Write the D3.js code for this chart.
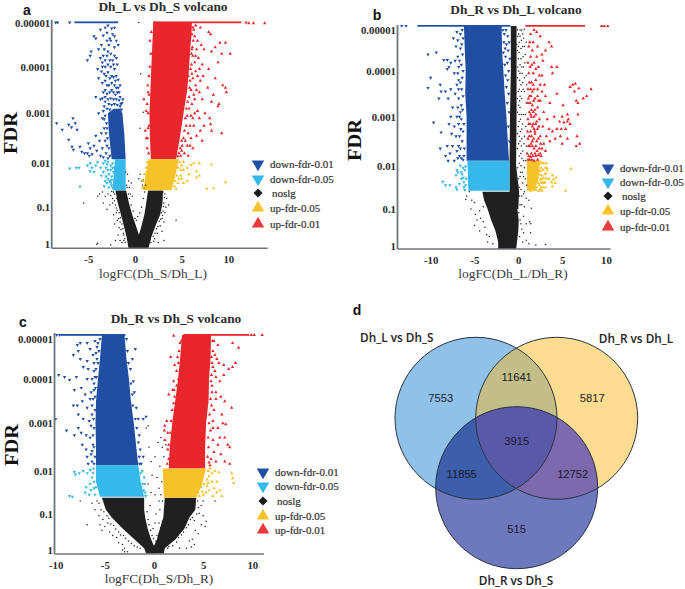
<!DOCTYPE html>
<html><head><meta charset="utf-8">
<script src="https://cdn.jsdelivr.net/npm/d3@7"></script>
<style>
html,body{margin:0;padding:0;background:#fff}
svg{display:block}
text{font-family:"Liberation Serif",serif}
</style></head><body>
<svg id="c" width="685" height="589"></svg>
<script>
// y values are -log10(FDR); x values are logFC. All estimated from the picture.
const fdrTicks=[0,1,2,3,4,5];
const fdrLabels=["1","0.1","0.01","0.001","0.0001","0.00001"];
const legendLabels=["down-fdr-0.01","down-fdr-0.05","noslg","up-fdr-0.05","up-fdr-0.01"];
const titles=["Dh_L vs Dh_S volcano","Dh_R vs Dh_L volcano","Dh_R vs Dh_S volcano"];
const xLabels=["logFC(Dh_S/Dh_L)","logFC(Dh_L/Dh_R)","logFC(Dh_S/Dh_R)"];
const xTicksA=[-5,0,5,10], xTicksB=[-10,-5,0,5,10], xTicksC=[-10,-5,0,5,10];

// dense bands: [y, xLow, xHigh]
const aRedBand=[[5.02,1.95,6.1],[4.7,1.9,6.05],[4.5,1.85,5.95],[4,1.75,5.8],[3.5,1.65,5.6],[3,1.55,5.2],[2.5,1.6,4.8],[2.08,1.7,4.4]];
const aYellowBand=[[2.08,1.45,4.7],[1.7,1.1,4.3],[1.39,.9,3.9]];
const aBlueBand=[[3.1,-2.3,-1.6],[3,-2.9,-1.35],[2.6,-2.8,-1.15],[2.08,-2.5,-1]];
const aSkyBand=[[2.08,-2.15,-1],[1.39,-2.4,-1]];
const aBlackLeft=[[1.38,-2.1,-.95],[1.1,-1.85,-.65],[.8,-1.5,-.3],[.5,-1.2,.1],[.2,-.9,.5],[-.1,-.7,.7]];
const aBlackRight=[[1.38,1.4,3],[1.1,1.2,2.95],[.8,1,2.7],[.5,.7,2.2],[.2,.35,1.75],[-.1,0,1.45]];
const aBlueTop=[[5.02,-6.5,-1.8]], aRedTop=[[5.02,1.95,11.4]];
const aBlue=[[-8.5,5.02],[-8.3,5.02],[-7,5.02],[-3.7,4.85],[-3.2,4.9],[-2.9,4.95],[-2.5,4.88],[-2.2,4.9],[-4.4,4.7],[-4.2,4.65],[-2.2,4.7],[-2.6,4.6],[-3,4.6],[-2.8,4.5],[-3.6,4.5],[-3.9,4.4],[-4.7,4.35],[-4.8,4.25],[-5.1,4.15],[-3.3,4.4],[-2.6,4.3],[-2.2,4.45],[-3.7,4.2],[-3.2,4.15],[-2.4,4.15],[-2,4.2],[-2.9,4.05],[-3.5,4],[-4,3.95],[-2.2,3.95],[-3.9,3.75],[-3.1,3.8],[-2.5,3.8],[-2,3.8],[-3.5,3.65],[-2.8,3.6],[-2.2,3.6],[-3.4,3.45],[-2.7,3.45],[-2.1,3.4],[-1.7,3.45],[-1.5,3.2],[-4.2,3.35],[-3.7,3.3],[-3.2,3.25],[-1.3,3.3],[-1.6,3.6],[-3.9,3],[-3.5,2.9],[-3.3,2.7],[-3.6,2.6],[-3.2,2.45],[-3.5,2.3],[-3.1,2.2],[-8.4,2.8],[-7.8,2.67],[-7.1,2.77],[-6.65,2.9],[-6.8,2.72],[-6.4,2.8],[-6.2,2.67],[-7.1,2.47],[-6.75,2.33],[-6.6,2.27],[-5.9,2.33],[-5,2.4],[-5.7,2.23],[-5.1,2.2],[-4.8,2.3],[-4.4,2.35],[-4.6,2.18],[-4.1,2.25],[-3.8,2.45],[-4.2,2.55],[-3.7,2.15],[-5.4,2.2],[-4.9,2.15],[-3.4,2.12]];
const aBlue2=[[-3.4,4.72],[-3,4.78],[-2.4,4.75],[-2.9,4.35],[-3.4,4.25],[-3,4.25],[-2.7,4.15],[-2.2,4.25],[-1.9,4.05],[-3.2,4],[-2.6,4],[-2.3,4.05],[-3.6,3.9],[-3.3,3.85],[-2.9,3.88],[-2.7,3.75],[-2.3,3.78],[-2.1,3.7],[-1.8,3.72],[-3.2,3.7],[-3,3.6],[-2.5,3.65],[-2,3.55],[-1.8,3.55],[-3.2,3.5],[-3,3.42],[-2.5,3.5],[-2.3,3.45],[-1.9,3.45],[-1.6,3.35],[-3.5,3.32],[-3.2,3.35],[-2.9,3.3],[-2.6,3.32],[-2.3,3.3],[-2,3.3],[-1.7,3.28],[-1.4,3.22],[-3.3,3.15],[-3,3.1],[-3.4,3.05],[-3.2,2.95],[-3.05,2.8],[-3.3,2.88],[-3.1,2.6],[-3,2.7],[-2.95,2.5],[-3,2.35],[-2.8,2.3],[-2.7,2.15],[-2.9,2.1],[-1.9,2.8],[-2.7,4.65],[-1.8,4.5],[-3.5,4.1],[-2,4.6],[-2.8,3.2],[-2.5,3.18],[-2.2,3.2],[-1.9,3.18],[-1.6,3.15],[-1.45,3.08],[-2.7,3.08]];
const aSky=[[-7,1.88],[-6.3,1.9],[-6,1.9],[-5.1,1.95],[-4.8,2],[-4.6,1.9],[-4.8,1.82],[-4.4,1.8],[-4.2,1.95],[-4,2.02],[-3.7,1.9],[-3.4,2],[-3.1,1.9],[-2.9,2.03],[-2.6,1.95],[-2.4,1.9],[-3.4,1.8],[-3.1,1.7],[-2.8,1.75],[-2.5,1.7],[-3,1.55],[-2.7,1.6],[-2.5,1.5],[-2.4,1.45],[-5.9,1.47],[-3.2,1.6],[-2.8,1.45],[-3.6,1.72],[-2.2,1.6],[-2.4,2],[-2.6,1.85],[-2.9,1.85],[-3.2,2.05],[-2.3,1.8],[-3,1.98],[-2.6,1.55],[-2.9,1.65],[-3.3,1.48],[-2.5,1.62],[-2.2,1.9]];
const aBlack=[[-1,1.8],[-.8,1.75],[-.7,1.6],[-.9,1.5],[-.6,1.45],[-.4,1.55],[-.5,1.3],[-.3,1.25],[-2.2,1.3],[-2.6,1.27],[-2.9,1.3],[-3.2,1.25],[-3.5,1.35],[-3.8,1.3],[-4,1.25],[-5.5,1.1],[-2.4,1.1],[-2.7,1.05],[-3,.95],[-3.4,1.1],[-2,.85],[-2.3,.8],[-1.9,.65],[-2.2,.55],[-1.7,.45],[-1.8,.25],[-2.1,.1],[-2.6,-.02],[-4.1,0],[-4,.03],[-1.6,.1],[-1.4,.05],[-1.2,.25],[.55,1.75],[.7,1.6],[.8,1.5],[.9,1.62],[3.2,1.3],[3.4,1.2],[3.1,1.1],[3.3,1],[3,.9],[3.6,1.05],[2.9,.7],[3.1,.6],[2.7,.5],[2.9,.35],[2.4,.3],[2.1,.15],[3.1,.1],[2.5,.05],[4.4,.65],[1.3,.02],[.4,1.65],[.55,2.7],[.9,3.02],[.6,3.85],[.4,5.02],
[-2.4,1.2],[-2.2,1.15],[-2.1,1.05],[-1.95,1.2],[-2.5,1.36],[-2.3,1.35],[-2,.98],[-1.9,.92],[-1.7,.85],[-1.75,.7],[-1.55,.72],[-1.6,.6],[-1.4,.55],[-1.5,.4],[-1.3,.42],[-1.25,.3],[-1.1,.15],[-1.2,.1],[-1.05,.05],[3,1.35],[3.15,1.22],[3.05,1.02],[3.2,.85],[2.85,.85],[2.95,.78],[2.75,.68],[2.6,.62],[2.45,.48],[2.3,.42],[2.15,.3],[1.95,.22],[2,.08],[1.7,.05],[1.6,.12],[-.85,1.45],[-.7,1.3],[-.6,1.2],[-.4,1.05],[-.2,.9],[0,.7],[.15,.65],[.3,.75],[.5,.85],[.7,1],[.9,1.2],[1.05,1.35],[1.15,1.5],[.95,1.44]];
const aYellow=[[5.2,2.03],[5.6,1.9],[6,1.96],[6.3,2],[6.9,2],[8.2,1.97],[6.6,1.82],[5.8,1.75],[5.2,1.85],[4.9,1.72],[5.2,1.55],[4.6,1.55],[4.4,1.42],[6.6,1.68],[6.9,1.72],[7.7,1.42],[8.4,1.43],[9.7,1.57],[5.6,1.6],[5,1.65],[4.8,2.02],[5,1.95],[4.6,1.9],[4.9,1.85],[4.5,1.72],[4.7,1.65],[4.3,1.6],[4.2,1.48],[1.2,1.9],[1,1.75],[.85,1.6],[.8,1.45],[1.3,2.02]];
const aRed=[[11.9,5.02],[12.2,5],[12.7,5],[13.9,5],[6.5,4.95],[7,4.9],[7.9,4.8],[8.1,4.75],[6.7,4.6],[7.1,4.5],[7.4,4.4],[8.6,4.45],[9.1,4.55],[9.7,4.55],[9.3,4.3],[10.2,4.3],[8.2,4.35],[8.9,4.1],[6.8,4.2],[7.9,3.95],[6.5,3.9],[7.3,3.8],[8.6,3.75],[9.4,3.6],[9.7,3.55],[9.8,3.45],[7,3.7],[7.8,3.55],[8.4,3.4],[6.6,3.5],[7.2,3.3],[8.2,3.25],[8.9,3.15],[9,3.2],[6.3,3.4],[6.7,3.05],[7.5,3],[8,2.9],[7.4,2.75],[8.2,2.65],[8.1,2.78],[9.3,2.6],[6.4,4.7],[6.6,4.4],[6.4,4.1],[6.9,3.95],[7.2,4.05],[6.2,3.75],[6.5,3.6],[6.9,3.45],[6.1,3.2],[6.4,3],[6.9,2.9],[7,2.65],[6,2.95],[5.9,2.75],[6.3,2.75],[6.6,2.55],[5.7,2.6],[6,2.5],[5.6,2.35],[6.2,2.3],[7.2,2.45],[5.3,2.2],[5.7,2.15],[5,2.25],[4.9,2.15],[1.4,3],[1.2,3.05],[1.1,2.65],[1.2,2.5],[1.3,2.3],[1.5,3.4],[1.7,4.3],[2.1,5.02],[1.5,2.75],[.95,3.3],[1.3,3.2],[5.7,3.8],[6.1,4.4],[6.3,4.85],[5.8,3.1],
[6.2,4.9],[6.1,4.75],[6.25,4.6],[6.15,4.45],[6.05,4.3],[6.2,4.25],[6.05,4.05],[5.95,3.95],[6.1,3.85],[5.9,3.7],[5.85,3.55],[6,3.5],[5.8,3.35],[5.65,3.25],[5.5,3.1],[5.6,2.95],[5.4,2.9],[5.5,2.75],[5.3,2.65],[5.2,2.5],[5.4,2.45],[5,2.45],[5.05,2.35],[4.85,2.3],[4.7,2.2],[4.6,2.14],[6.5,4.25],[6.7,3.8],[6.4,3.3],[6.2,2.9],[5.9,2.35],[1.4,3.45],[1.35,3.6],[1.5,3.8],[1.4,2.7],[1.35,2.5],[1.45,2.2],[1.6,4.6],[1.75,4.8],[1.6,4]];

const bBlueBand=[[5.1,-6.2,-1.9],[4.5,-6.1,-1.85],[4,-6,-1.7],[3.5,-6.05,-1.55],[3,-5.9,-1.35],[2.5,-5.9,-1.2],[2.1,-5.9,-1.05]];
const bSkyBand=[[2.1,-5.8,-1],[1.42,-5.7,-1]];
const bBlackMain=[[5.1,-.85,-.2],[4,-.85,-.2],[3,-.95,-.2],[2,-1,-.25],[1.4,-1,.1],[1,-1.2,.0]];
const bBlackBase=[[1.4,-4.1,-1],[1.2,-3.9,-.2],[1,-3.5,-.1],[.7,-3.1,.05],[.4,-2.6,0],[.1,-2.3,-.15],[-.1,-2.3,-.25]];
const bBlueTop=[[5.1,-11.5,-.9]], bRedTop=[[5.1,.8,7.6]];
const bYellowBand=[[2.1,1,2.5],[1.75,1,2.3],[1.42,1,1.9]];
const bBlue=[[-12.8,5.1],[-13.3,5.1],[-10.3,4.4],[-9.35,4.45],[-10,3.85],[-10.3,3.63],[-8.9,3.7],[-8.5,4.27],[-8.1,4.27],[-7.7,4.2],[-7.9,4.1],[-8.1,4.05],[-8.8,3.55],[-9.05,3.4],[-8.3,3.55],[-7.7,3.6],[-8,3.4],[-7.2,3.5],[-9.65,2.88],[-8.8,2.68],[-8.9,2.35],[-8.1,2.4],[-8.3,2.2],[-8,2.1],[-7.8,2.25],[-7.5,2.4],[-7.7,3],[-7.9,2.85],[-7.3,2.8],[-7.6,2.65],[-7.1,2.6],[-7,2.3],[-7.3,2.1],[-6.9,2.15],[-7,4.95],[-7.4,4.8],[-7.1,4.6],[-6.9,4.75],[-6.9,4.35],[-6.8,4.1],[-6.9,3.95],[-6.8,3.8],[-7,3.7],[-6.8,3.4],[-6.9,3.2],[-7,3],[-6.8,2.85],[-6.7,2.6],[-6.8,2.4],[-6.7,2.2],[-6.8,3.6],[-6.6,4.9],[-6.6,4.55],[-6.7,4.25],[-7.3,3.95],[-7.5,3.2],[-6.5,3.25],[-6.5,2.95],[-6.4,2.5],[-6.5,2.15],[-6.6,3.75],[-7.2,4.25],
[-6.4,5],[-6.3,4.8],[-6.45,4.65],[-6.35,4.4],[-6.5,4.15],[-6.3,4],[-6.4,3.85],[-6.45,3.6],[-6.3,3.45],[-6.35,3.15],[-6.2,2.85],[-6.3,2.7],[-6.15,2.35],[-6.2,2.2],[-6.6,3.1],[-6.7,3],[-6.55,2.75],[-6.6,2.35],[-6.3,2.12],[-1.75,5],[-1.6,4.9],[-1.4,5],[-1.2,4.85],[-1.65,4.7],[-1.35,4.65],[-1.15,4.5],[-1.7,4.45],[-1.45,4.35],[-1.25,4.2],[-1.55,4.15],[-1.1,4],[-1.45,3.9],[-1.2,3.8],[-1.35,3.65],[-1.1,3.5],[-1.25,3.3],[-1.05,3.1],[-1.15,2.8],[-1,2.5],[-1.5,4.55],[-1.05,4.7],[-.95,4.3]];
const bSky=[[-8.6,1.63],[-8.3,1.55],[-7.8,1.55],[-7.1,1.5],[-7,1.45],[-7,1.9],[-7.1,1.78],[-6.6,2],[-6.5,1.85],[-6.9,1.85],[-6.5,1.7],[-6.3,1.95],[-6.7,1.58],[-6.2,1.5],[-6.3,1.72],[-6.1,1.9],[-6,1.55],[-6.2,1.62],[-6.4,1.8],[-6,1.98],[-5.95,1.7],[-6.1,1.44]];
const bBlack=[[-5.6,1.4],[-5.9,1.3],[-6,1.22],[-5.3,1.2],[-5,1.15],[-5.4,1],[-4.9,.85],[-4.7,.7],[-5,.55],[-4.4,.95],[-4.3,.75],[-4,.65],[-3.8,.5],[-4.4,.4],[-3.6,.3],[-3.3,.25],[-3.5,.1],[-2.9,.05],[-4,1.05],[.2,5],[.5,4.9],[.7,5.02],[.1,4.7],[.5,4.6],[.8,4.4],[.3,4.3],[.6,4.1],[.2,3.95],[.5,3.75],[.9,3.9],[.1,3.6],[.4,3.4],[.7,3.55],[.2,3.2],[.6,3.05],[.9,3.3],[.1,2.9],[.4,2.75],[.7,2.6],[.2,2.5],[.5,2.3],[.9,2.4],[.1,2.2],[.3,2],[.7,1.95],[.2,1.75],[.5,1.6],[.8,1.7],[.1,1.5],[.4,1.3],[.9,1.25],[.2,1.1],[.7,1.05],[1.2,1.2],[1.5,1.02],[.6,.8],[.3,.6],[.9,.6],[1.3,.65],[1.4,.35],[.6,.35],[.9,.15],[1.2,.05],[2,.02],[3.1,.03],[1.4,.6],[.4,4.1],[.1,2.6],[.05,4.9],[.35,3.05],[.25,1.85],[.6,2.1],
[-.1,5],[-.05,4.85],[.02,4.6],[-.1,4.5],[.1,4.45],[0,4.3],[.2,4.15],[-.08,4.1],[.05,4],[-.1,3.85],[.15,3.8],[.3,3.7],[0,3.55],[-.1,3.4],[.2,3.45],[.05,3.25],[-.1,3.1],[.1,3.05],[.25,2.95],[0,2.8],[-.1,2.65],[.25,2.7],[.05,2.45],[-.1,2.35],[.35,2.4],[.1,2.05],[-.1,1.95],[.45,1.85],[.02,1.7],[-.05,1.55],[.3,1.45],[.6,1.35],[.35,4.75],[.6,4.8],[.3,4.55],[.7,4.6],[.55,4.35],[.75,4.2],[.45,3.95],[.7,3.85],[.35,3.55],[.55,3.6],[.8,3.05],[.5,2.85],[.85,2.8],[.65,2.45],[.4,2.15],[.85,2.1],[.6,1.75],[.95,1.55],[.7,1.4],[.95,3.7],[.9,4.7],[.4,5],[.2,4.85],[.15,3.35],[.4,2.55],[.3,2.25],[.15,1.3],[.4,1.1],[.05,.9],[.2,.7],[.4,.45],[.15,.25],[.5,.1],[-.3,5.02],[-.2,4.65]];
const bYellow=[[2.4,2.05],[2.6,1.95],[2.9,2.05],[3.2,2.05],[3.3,1.9],[3,1.8],[2.7,1.7],[2.4,1.8],[2.3,1.6],[2.6,1.5],[2.9,1.6],[3.2,1.7],[3.5,1.7],[2.7,1.42],[2.3,1.42],[3.9,1.78],[4,1.68],[4.2,1.6],[3.8,1.62],[3.9,1.52],[4.3,1.72],[2.1,1.5],[2,1.44],[1.4,1.42],[6,1.93],[5.4,1.42],[2.5,1.88],[3.1,1.5],[1.2,1.46],[2.75,2.05],[3.05,1.95],[2.55,2.08],[2.8,1.9],[3.15,1.82],[2.6,1.78],[2.9,1.72],[2.5,1.68],[2.75,1.6],[3.05,1.62],[2.4,1.55],[2.6,1.62],[2.85,1.5],[2.5,1.45],[2.15,1.66],[3.25,1.95],[2.2,1.72]];
const bRed=[[9.5,5.1],[9.8,5.1],[10.2,5.1],[1.4,4.9],[2.1,4.95],[2.5,4.85],[1.7,4.7],[1.2,4.6],[1.6,4.5],[2.2,4.6],[3.5,4.7],[3.8,4.6],[3.1,4.5],[2.7,4.4],[2.1,4.35],[1.4,4.35],[1.1,4.2],[1.8,4.2],[2.3,4.1],[2.8,4.25],[4.4,4.1],[3.8,4.1],[2.7,3.9],[1.7,3.95],[1.2,3.95],[1.5,3.75],[2,3.8],[2.5,3.7],[3,3.7],[3.9,3.95],[1.1,3.6],[1.6,3.55],[2.2,3.6],[2.7,3.55],[1.3,3.45],[1.9,3.4],[2.5,3.35],[3.1,3.45],[4.4,3.5],[3.6,3.3],[1.1,3.3],[1.6,3.25],[2.2,3.2],[2.9,3.1],[1.4,3.05],[1.8,3],[2.4,2.95],[3.3,2.95],[4.1,3],[1.2,2.85],[1.7,2.85],[2.2,2.75],[2.8,2.8],[3.5,2.75],[1.4,2.7],[1.9,2.65],[2.5,2.6],[3.2,2.6],[3.9,2.7],[4.4,2.75],[1.1,2.55],[1.6,2.5],[2.1,2.5],[2.9,2.45],[3.6,2.5],[4.2,2.55],[1.3,2.4],[1.8,2.35],[2.4,2.35],[3.1,2.3],[1,2.25],[1.5,2.25],[2,2.2],[2.6,2.2],[1.3,2.12],[1.8,2.1],[2.2,2.12],[6.2,3.7],[6.5,3.72],[6.4,3.55],[6.9,3.62],[7.4,3.4],[8.3,3.6],[7.8,3.45],[6.6,3.35],[6.8,3.3],[5.9,3.65],[5.1,3.25],[5,3],[5.2,2.88],[5.6,3.05],[5.6,2.9],[5.9,2.85],[5.4,2.75],[5.7,2.95],[4.9,2.75],[4.7,2.9],[4.8,2.6],[6.8,3.05],[6.6,2.4],[7,2.45],[6.7,2.6],[5.6,2.55],[5,2.45],[1.6,2.8],[1.5,3.15],[2.1,2.9],[1.9,2.7],[2.3,2.55],[2.7,2.35],[1.6,2.4],[1.7,3.7],[2.3,3.35],[1.4,3.6],[1.9,3.15],
[1.25,3.75],[1.15,3.4],[1.35,3.3],[1.25,3.1],[1.5,3],[1.1,2.95],[1.35,2.85],[1.5,2.6],[1.25,2.6],[1.15,2.4],[1.45,2.45],[1.2,2.2],[1.65,2.2],[1.9,2.25],[1.75,2.55],[2,2.4],[2.15,2.3],[2.3,2.22],[1.8,2.75],[2,2.85],[1.7,3.1],[2,3.05],[2.2,3.45],[1.75,3.35],[1.45,3.45],[2.35,2.8],[2.55,2.45],[2.5,2.25],[1.05,2.7],[1.4,2.18],[1.55,2.12],[1.1,2.12],[1.35,4.1],[2,4.05],[1.55,4.15],[1.8,3.6],[2.4,3.9],[1.3,4.7],[1.8,5]];

const cBlueBand=[[5.1,-5.3,-3],[4.5,-5.5,-2.8],[4,-5.7,-2.55],[3.5,-5.9,-2.35],[3,-5.95,-2.05],[2.5,-5.9,-1.8],[2.12,-5.9,-1.6]];
const cSkyBand=[[2.12,-5.9,-1.6],[1.75,-5.9,-1.35],[1.4,-5.5,-1]];
const cRedBand=[[5.1,2.85,5.8],[4.5,2.65,5.75],[4,2.45,5.6],[3.5,2.15,5.55],[3,1.85,5.3],[2.5,1.6,5.2],[2.05,1.5,5.2]];
const cYellowBand=[[2.05,.9,5.3],[1.7,.95,4.9],[1.38,1,4.3]];
const cBlackLeft=[[1.38,-5.3,-1],[1.1,-4.9,-1],[.9,-4.3,-.9],[.6,-3.2,-.65],[.3,-2,-.3],[.05,-1,.1],[-.1,-.8,.3]];
const cBlackRight=[[1.38,1.1,4.3],[1.1,1,4.2],[.9,.95,3.6],[.6,.6,3.1],[.3,.3,2.2],[.05,-.1,1.1],[-.1,-.3,1]];
const cBlueTop=[[5.1,-9.5,-2.9]], cRedTop=[[5.1,3,9.7]];
const cBlue=[[-9.9,5.1],[-9.6,5.1],[-7.8,4.85],[-7.5,4.9],[-6.8,4.9],[-6.5,4.75],[-7.7,4.7],[-8.2,4.6],[-7.5,4.5],[-6.8,4.45],[-6.2,4.6],[-5.8,4.8],[-7.2,4.3],[-6.7,4.25],[-6.1,4.2],[-9.7,4.1],[-9.1,4.05],[-8.6,3.98],[-7.9,4.05],[-6.8,4],[-6.1,3.9],[-8.1,3.75],[-7.4,3.8],[-7,3.65],[-6.4,3.7],[-8.2,3.4],[-7.8,3.4],[-7.3,3.5],[-6.8,3.35],[-6.3,3.4],[-7.7,3.2],[-7.2,3.1],[-6.6,3.05],[-10,3.1],[-8.9,2.85],[-8.1,2.75],[-7.7,2.9],[-7.4,2.8],[-6.9,2.75],[-6.5,2.7],[-7.3,2.55],[-6.9,2.45],[-6.4,2.35],[-6.8,2.3],[-6.7,2.15],[-6.3,2.2],[-1.9,4.75],[-2.2,4.5],[-2.1,3.95],[-2,3.7],[-1.8,3.35],[-1.6,3.1],[-1.1,3.1],[-.8,3.15],[-1.5,2.75],[-1.4,2.45],[-1.1,2.3],[-1.3,2.15],[-5.8,4.5],[-6,4.05],[-6.3,3.2],[-6.2,2.55],
[-5.5,5],[-5.7,4.9],[-6,4.95],[-5.6,4.7],[-5.9,4.65],[-5.7,4.4],[-6.1,4.4],[-5.9,4.25],[-5.85,4.05],[-6.3,4],[-6.1,3.75],[-5.95,3.8],[-6.2,3.55],[-6,3.6],[-6.5,3.55],[-6,3.3],[-6.15,3.1],[-6.4,2.95],[-6.1,2.9],[-6.2,2.75],[-6.1,2.5],[-6.3,2.42],[-6,2.3],[-6.1,2.15],[-2.8,5],[-2.7,4.7],[-2.6,4.4],[-2.4,4.25],[-2.35,3.9],[-2.2,3.65],[-2.15,3.4],[-1.9,3.1],[-1.75,2.9],[-1.6,2.6],[-1.5,2.3],[-1.45,2.15]];
const cSky=[[-8.1,1.98],[-8,1.92],[-7.6,1.95],[-7.2,2],[-6.8,1.95],[-6.5,2.02],[-6.2,1.95],[-6.5,1.7],[-6.9,1.62],[-6.4,1.55],[-7,1.5],[-8.3,1.4],[-8.6,1.42],[-6.6,1.45],[-6.1,1.75],[-6,1.45],[-5.9,1.62],[-1.2,2],[-1,1.85],[-.95,1.7],[-.9,1.5],[-6.15,2.05],[-6.3,1.85],[-6.1,1.6],[-1.35,1.95],[-1.15,1.7],[-1.05,1.55],[-.85,1.42]];
const cBlack=[[-5.8,1.3],[-6.3,1.25],[-6,1.1],[-5.6,.95],[-5.2,.85],[-5.5,.7],[-5,.65],[-5.3,.55],[-4.7,.75],[-4.5,.5],[-4.2,.4],[-3.8,.35],[-3.6,.2],[-3.2,.15],[-3,.05],[-3.2,0],[-6.8,.7],[-7.5,1.3],[-.5,2.5],[-.3,2.2],[.1,2.3],[.4,2.6],[.7,2.7],[.85,2.5],[.6,2.1],[1,2.3],[1.2,2.55],[-.2,1.9],[.3,1.85],[.5,1.6],[.8,1.75],[-.6,1.7],[-.3,1.5],[.1,1.45],[.5,1.3],[.85,1.3],[-.4,1.2],[.2,1],[.6,1.1],[.1,.75],[.5,.75],[-.1,.6],[.3,.4],[.7,1.45],[-.8,2.9],[-.6,2.95],[4.6,1.02],[5,.95],[5.3,.8],[4.8,.7],[5.2,.65],[4.2,.55],[4.5,.45],[3.9,.3],[4.1,.15],[3.6,.25],[3.3,.05],[3.8,.08],[6.2,1.3],[4.8,1.2],[5,1.3],[-.7,.08],[-2.7,-.05],[-3,-.05],[1.4,.05],[2.6,.05],
[-5.6,1.25],[-5.4,1.1],[-5.1,1.05],[-4.8,.95],[-4.6,.88],[-4.4,.72],[-4.1,.68],[-3.9,.58],[-3.6,.5],[-3.4,.42],[-3.1,.4],[-2.9,.32],[-2.6,.25],[-2.3,.18],[-2,.12],[-1.7,.08],[-1.4,.05],[-.7,1.05],[-.6,.85],[-.5,.7],[-.35,.55],[-.2,.4],[-.05,.32],[.2,.25],[.5,.45],[.7,.62],[.85,.8],[4.45,1.3],[4.5,1.15],[4.35,1],[3.9,.9],[4.1,.82],[3.7,.85],[3.5,.7],[3.3,.62],[3,.5],[2.8,.42],[2.5,.35],[2.3,.22],[1.9,.12],[1.5,.1]];
const cYellow=[[5.7,2.05],[5.9,1.95],[6.2,2],[6.6,1.97],[7.9,1.95],[8.1,1.72],[8,1.83],[5.9,1.75],[6.4,1.75],[6.1,1.6],[5.6,1.55],[5.3,1.5],[5,1.45],[6,1.42],[6.4,1.5],[6.7,1.55],[6.9,1.42],[4.8,1.62],[5.4,1.8],[5.5,2],[5.6,1.88],[5.4,1.65],[5.1,1.7],[5.5,1.72],[4.9,1.52],[4.6,1.42],[4.5,1.5]];
const cRed=[[9.9,5.1],[10.2,5.1],[11,5.1],[2,5.08],[2.8,4.95],[1.7,4.55],[2.4,4.55],[2.1,4.35],[2,3.95],[2.5,4],[1.9,3.75],[2.1,3.6],[1.5,3.65],[1.85,3.3],[1.3,3.05],[1.1,2.95],[1.05,2.85],[1.4,2.8],[1.1,2.65],[1.5,2.55],[6.1,4.95],[6.5,4.85],[8,4.9],[8.6,4.78],[6.2,4.6],[6.4,4.5],[6.6,4.4],[7.1,4.35],[8.3,4.4],[8,4.3],[7.6,4.25],[6.2,4.2],[6.3,4.05],[6.7,3.95],[7.1,4.1],[6.3,3.7],[6.8,3.6],[6.3,3.55],[7.2,3.5],[7.9,3.35],[6.1,3.3],[6.9,3.2],[7,3],[7.3,2.98],[6,3.05],[6.5,2.9],[7.2,2.7],[7.5,2.55],[7.7,2.5],[6,2.65],[6.5,2.55],[6.1,2.4],[6.8,2.35],[5.8,2.25],[6.3,2.2],[7.2,2.2],[7.7,2.15],[5.7,2.12],[6.7,2.7],[5.9,4.4],[5.9,3.85],[6,2.9],
[5.95,4.95],[6,4.7],[5.85,4.55],[6,4.3],[5.85,4.1],[5.8,3.95],[5.9,3.7],[5.75,3.55],[5.85,3.4],[5.65,3.2],[5.6,3],[5.75,2.85],[5.5,2.7],[5.55,2.5],[5.45,2.3],[5.6,2.18],[2.65,4.9],[2.55,4.7],[2.5,4.4],[2.3,4.2],[2.3,3.85],[2.05,3.75],[2,3.45],[1.75,3.05],[1.65,2.8],[1.5,2.25],[1.35,2.15],[1.4,2.45]];

const vennSets=["Dh_L vs Dh_S","Dh_R vs Dh_L","Dh_R vs Dh_S"];
const vennCounts=[7553,11641,5817,3915,11855,12752,515];

const palette={up01:"#e8262b",up05:"#f5c22a",noslg:"#202020",down05:"#35b8ea",down01:"#1f4ea3"};
const svg=d3.select("#c");
const tri=d3.symbol().type(d3.symbolTriangle);

function panel(p){
  const x=d3.scaleLinear().domain(p.xd).range(p.xr);
  const y=d3.scaleLinear().domain(fdrTicks).range(p.yr);
  const g=svg.append("g");
  const clip="clip"+p.id;
  svg.append("clipPath").attr("id",clip).append("rect").attr("x",p.left).attr("y",p.top).attr("width",p.right-p.left+2).attr("height",p.bottom-p.top);
  const plot=g.append("g").attr("clip-path",`url(#${clip})`);
  const band=d3.area().y(d=>y(d[0])).x0(d=>x(d[1])).x1(d=>x(d[2]));
  p.bands.forEach(([rows,k])=>plot.append("path").attr("d",band(rows)).attr("fill",palette[k]));
  p.tops.forEach(([rows,k])=>plot.selectAll(null).data(rows).join("rect")
    .attr("x",d=>x(d[1])).attr("y",d=>y(d[0])-1).attr("width",d=>x(d[2])-x(d[1])).attr("height",1.8).attr("fill",palette[k]));
  p.dots.forEach(([pts,k])=>{
    if(k==="noslg"){
      plot.selectAll(null).data(pts).join("circle").attr("cx",d=>x(d[0])).attr("cy",d=>y(d[1])).attr("r",.75).attr("fill",palette[k]);
    }else{
      const rot=k.startsWith("down")?180:0;
      plot.selectAll(null).data(pts).join("path").attr("d",tri.size(5)())
        .attr("transform",d=>`translate(${x(d[0])},${y(d[1])}) rotate(${rot})`).attr("fill",palette[k]);
    }
  });
  const ax=g.append("g").attr("transform",`translate(0,${p.bottom})`)
    .call(d3.axisBottom(x).tickValues(p.xt).tickSize(0).tickPadding(7).tickFormat(d=>d));
  const ay=g.append("g").attr("transform",`translate(${p.left},0)`)
    .call(d3.axisLeft(y).tickValues(fdrTicks).tickSize(0).tickPadding(1.5).tickFormat((d,i)=>fdrLabels[i]));
  [ax,ay].forEach(a=>{
    a.selectAll("text").style("font-family","Liberation Serif").style("font-weight","bold").style("font-size","10.8px").attr("fill","#2b2b2b");
  });
  ax.select(".domain").attr("d",`M${p.left},0H${p.right}`).attr("stroke","#6f7478").attr("stroke-width",1.6);
  ay.select(".domain").attr("d",`M0,${p.top}V${p.bottom}`).attr("stroke","#6f7478").attr("stroke-width",1.8);
  g.append("text").attr("x",p.title[0]).attr("y",p.title[1]).attr("text-anchor","middle").attr("font-weight","bold").attr("font-size","13.4px").attr("fill","#2b2b2b").text(titles[p.i]);
  g.append("text").attr("x",p.xlab[0]).attr("y",p.xlab[1]).attr("text-anchor","middle").attr("font-size","13.4px").attr("fill","#3a3a3a").text(xLabels[p.i]);
  g.append("text").attr("transform",`translate(${p.ylab[0]},${p.ylab[1]}) rotate(-90)`).attr("text-anchor","middle").attr("font-weight","bold").attr("font-size","18.5px").attr("textLength",42).attr("lengthAdjust","spacingAndGlyphs").attr("fill","#111").text("FDR");
  g.append("text").attr("x",p.letter[0]).attr("y",p.letter[1]).attr("text-anchor","middle").style("font-family","Liberation Sans").attr("font-weight","bold").attr("font-size","14px").attr("fill","#111").text(p.id);
  const keys=["down01","down05","noslg","up05","up01"];
  const big=d3.symbol().type(d3.symbolTriangle).size(68)();
  keys.forEach((k,i)=>{
    const ly=p.leg.y[i];
    const s=g.append("path").attr("fill",k==="up01"?"#ea3b3c":palette[k]);
    if(k==="noslg") s.attr("d",d3.symbol().type(d3.symbolSquare).size(42)()).attr("transform",`translate(${p.leg.x},${ly}) rotate(45)`).attr("fill","#1c1c1c");
    else s.attr("d",big).attr("transform",`translate(${p.leg.x},${ly}) rotate(${k.startsWith("down")?180:0})`);
    g.append("text").attr("x",p.leg.x+(k==="noslg"?14:12)).attr("y",ly+3.5).attr("font-size","11px").attr("stroke","#333").attr("stroke-width",.2).attr("fill","#333").text(legendLabels[i]);
  });
}

panel({i:0,id:"a",xd:[0,10],xr:[135,228.3],xt:xTicksA,yr:[244.3,207.3,163.3,113.3,66.7,23.3],left:51.7,right:267.7,top:20,bottom:248.3,
  bands:[[aBlackLeft,"noslg"],[aBlackRight,"noslg"],[aRedBand,"up01"],[aYellowBand,"up05"],[aBlueBand,"down01"],[aSkyBand,"down05"]],
  tops:[[aBlueTop,"down01"],[aRedTop,"up01"]],
  dots:[[aBlack,"noslg"],[aBlue,"down01"],[aBlue2,"down01"],[aSky,"down05"],[aYellow,"up05"],[aRed,"up01"]],
  title:[163,11],xlab:[153,278],ylab:[17,133],letter:[27,15],leg:{x:258,y:[164,179,193,208,224]}});
panel({i:1,id:"b",xd:[0,10],xr:[518.3,606],xt:xTicksB,yr:[245.7,209,165.7,116.7,71,30],left:397.5,right:610.5,top:25,bottom:249,
  bands:[[bBlackBase,"noslg"],[bBlackMain,"noslg"],[bBlueBand,"down01"],[bSkyBand,"down05"],[bYellowBand,"up05"]],
  tops:[[bBlueTop,"down01"],[bRedTop,"up01"]],
  dots:[[bBlack,"noslg"],[bBlue,"down01"],[bSky,"down05"],[bYellow,"up05"],[bRed,"up01"]],
  title:[516,14],xlab:[513,278],ylab:[361,140],letter:[377,20],leg:{x:608,y:[168,182,196,211,227]}});
panel({i:2,id:"c",xd:[0,10],xr:[154,252.3],xt:xTicksC,yr:[550,514,471,423.3,379,339],left:54.5,right:264,top:333,bottom:554,
  bands:[[cBlackLeft,"noslg"],[cBlackRight,"noslg"],[cBlueBand,"down01"],[cSkyBand,"down05"],[cRedBand,"up01"],[cYellowBand,"up05"]],
  tops:[[cBlueTop,"down01"],[cRedTop,"up01"]],
  dots:[[cBlack,"noslg"],[cBlue,"down01"],[cSky,"down05"],[cYellow,"up05"],[cRed,"up01"]],
  title:[176,323],xlab:[159,583],ylab:[18,445],letter:[23,327],leg:{x:263,y:[472,486,501,516,530]}});

const circles=[{c:[476,418.3],f:"#8fc1e9"},{c:[556.7,418.3],f:"#fbdc90"},{c:[516.7,487.7],f:"#6e78bc"}];
const R=81;
const defs=svg.append("defs");
circles.forEach((c,i)=>defs.append("clipPath").attr("id","v"+i).append("circle").attr("cx",c.c[0]).attr("cy",c.c[1]).attr("r",R));
const v=svg.append("g");
const disc=(par,i,f)=>par.append("circle").attr("cx",circles[i].c[0]).attr("cy",circles[i].c[1]).attr("r",R).attr("fill",f);
circles.forEach((c,i)=>disc(v,i,c.f));
disc(v.append("g").attr("clip-path","url(#v0)"),1,"#c3bd88");
disc(v.append("g").attr("clip-path","url(#v0)"),2,"#3d5eab");
disc(v.append("g").attr("clip-path","url(#v1)"),2,"#7c69ae");
disc(v.append("g").attr("clip-path","url(#v0)").append("g").attr("clip-path","url(#v1)"),2,"#5a58a8");
circles.forEach((c,i)=>disc(v,i,"none").attr("stroke","#2c3340").attr("stroke-width",1));
const vennPos=[[440.7,397.7],[516.7,376.7],[592.3,397.7],[516.7,441],[461.7,473.7],[572.7,473.7],[516.7,529]];
vennCounts.forEach((n,i)=>v.append("text").attr("x",vennPos[i][0]).attr("y",vennPos[i][1]+4).attr("text-anchor","middle").style("font-family","Liberation Sans").attr("font-size","11.2px").attr("fill","#1b1b2a").text(n));
const vennLab=[[396.7,337.7],[636,339.3],[516,581]];
vennSets.forEach((s,i)=>v.append("text").attr("x",vennLab[i][0]).attr("y",vennLab[i][1]+4).attr("text-anchor","middle").style("font-family","Open Sans").attr("font-weight","600").attr("font-size","11.8px").attr("fill","#222").text(s));
v.append("text").attr("x",357).attr("y",315).attr("text-anchor","middle").style("font-family","Liberation Sans").attr("font-weight","bold").attr("font-size","14px").attr("fill","#111").text("d");
</script>
</body></html>
